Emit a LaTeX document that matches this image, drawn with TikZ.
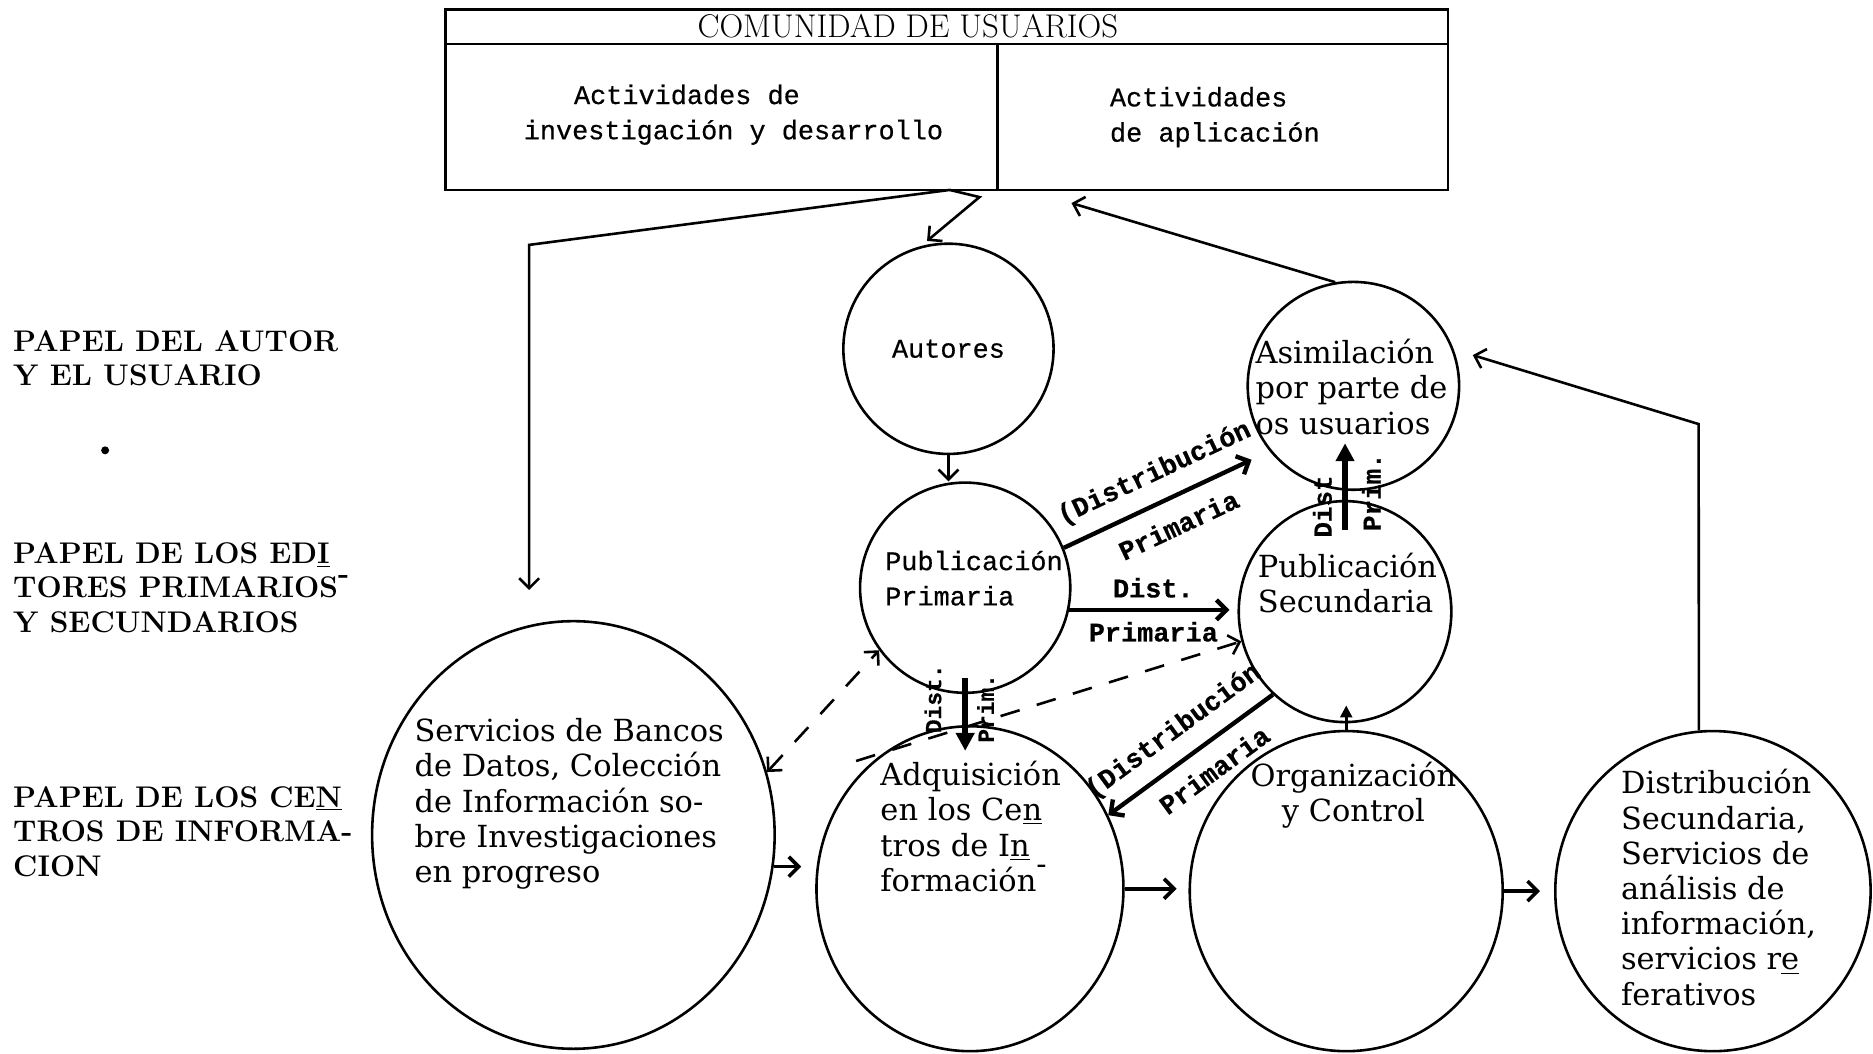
\documentclass[tikz,border=0pt]{standalone}
\usepackage{fontspec}
\newfontfamily\twfont[FakeBold=0.5]{Liberation Mono}
\newfontfamily\cfont{DejaVu Serif}
\usetikzlibrary{shapes.geometric,arrows.meta}

\begin{document}
\begin{tikzpicture}[x=0.6pt,y=-0.6pt,line width=1.3pt,
  >={Straight Barb[length=5pt,width=10pt]},
  every node/.style={inner sep=0pt},
  blob/.style={ellipse,draw},
  cell/.style={draw,rectangle,line width=1.2pt},
  tw/.style={font=\twfont\fontsize{13.5}{17.7}\selectfont,align=left},
  serif/.style={font=\cfont\fontsize{15.3}{17.7}\selectfont,align=left},
  rol/.style={font=\bfseries\fontsize{15}{17.4}\selectfont,align=left,anchor=west},
  lbl/.style={font=\twfont\bfseries\fontsize{13.5}{14}\selectfont},
  vlbl/.style={font=\twfont\bfseries\fontsize{11.5}{12}\selectfont,rotate=90},
  heavy/.style={->,line width=2.2pt},
  fat/.style={-{Triangle[length=9pt,width=9pt]},line width=3pt}]
 \useasboundingbox (0,0) rectangle (1568,882);
 \node [cell,minimum width=503.4pt,minimum height=17.4pt] (com) at (792.5,22.5) {};
 \node [cell,minimum width=277.2pt,minimum height=73.2pt] (inv) at (604,98) {};
 \node [cell,minimum width=226.2pt,minimum height=73.2pt] (apl) at (1023.5,98) {};
 \node [font=\fontsize{16.5}{18}\selectfont] (comT) at (760,22) {COMUNIDAD DE USUARIOS};
 \node [tw] (invT) at (614,96) {\hspace*{1.87em}Actividades de\\investigación y desarrollo};
 \node [tw] (aplT) at (1017,98) {Actividades\\de aplicación};

 \node [rol] (r1) at (10,300) {PAPEL DEL AUTOR\\Y EL USUARIO};
 \node [rol] (r2) at (10,492) {PAPEL DE LOS ED\underline{I}\\TORES PRIMARIOS\raisebox{1.1ex}{-}\\Y SECUNDARIOS};
 \node [rol] (r3) at (10,696) {PAPEL DE LOS CE\underline{N}\\TROS DE INFORMA-\\CION};
 \fill (88,377) circle (2pt);

 \node [blob,minimum width=105.6pt,minimum height=105.6pt] (aut) at (794,292) {};
 \node [blob,minimum width=105.6pt,minimum height=105.6pt] (pp) at (808,492) {};
 \node [blob,minimum width=106.2pt,minimum height=104.4pt] (asim) at (1133,323) {};
 \node [blob,minimum width=106.8pt,minimum height=111pt] (ps) at (1126,512) {};
 \node [blob,minimum width=202.2pt,minimum height=214.8pt] (serv) at (480,699) {};
 \node [blob,minimum width=154.2pt,minimum height=163.2pt] (adq) at (812,744) {};
 \node [blob,minimum width=157.2pt,minimum height=160.8pt] (org) at (1127,746) {};
 \node [blob,minimum width=158.4pt,minimum height=160.8pt] (dsec) at (1434,746) {};

 \node [tw] (autT) at (aut) {Autores};
 \node [tw,anchor=west] (ppT) at (740,484) {Publicación\\Primaria};
 \node [serif,anchor=west] (asimT) at (1050,324) {Asimilación\\por parte de\\os usuarios};
 \node [serif,anchor=west] (psT) at (1052,488) {Publicación\\Secundaria};
 \node [serif,anchor=west] (servT) at (346,673) {Servicios de Bancos\\de Datos, Colección\\de Información so-\\bre Investigaciones\\en progreso};
 \node [serif,anchor=west] (adqT) at (736,692) {Adquisición\\en los Ce\underline{n}\\tros de I\underline{n}\\formación\raisebox{1.1ex}{-}};
 \node [serif,align=center] (orgT) at (1133,666) {Organización\\y Control};
 \node [serif,anchor=west] (dsecT) at (1356,743) {Distribución\\Secundaria,\\Servicios de\\análisis de\\información,\\servicios r\underline{e}\\ferativos};

 \coordinate (j1) at (795,159);
 \coordinate (k1) at (820,165);
 \coordinate (k2) at (443,205);
 \coordinate (k3) at (897,170);
 \coordinate (k4) at (1422,355);
 \draw [->,shorten >=15pt] (j1) -- (k2) -- (k2 |- serv.north);
 \draw [->,shorten >=4pt] (j1) -- (k1) -- (aut.105);
 \draw [->] (asim.100) -- (k3);
 \draw [->,shorten >=10pt] (dsec.95) -- (k4) -- (asim.20);
 \draw [->] (aut.south) -- (aut.south |- pp.north);

 \draw [heavy,shorten >=10pt] (pp.22) -- (asim.218)
   node [midway,sloped,above=7pt,lbl] (l1) {(Distribución}
   node [midway,sloped,below=8pt,lbl] (l2) {Primaria};
 \draw [heavy,shorten >=4pt] (pp.348) -- (pp.348 -| ps.west)
   node [midway,above=5pt,lbl] (l3) {Dist.}
   node [midway,below=5pt,lbl] (l4) {Primaria};
 \draw [heavy,<-] (adq.28) -- (ps.229)
   node [midway,sloped,above=7pt,lbl] (l5) {(Distribución}
   node [pos=0.55,sloped,below=7pt,lbl] (l6) {Primaria};

 \draw [fat,shorten <=-8pt,shorten >=-13pt] (pp.south) -- (pp.south |- adq.north);
 \node [vlbl] (d1) at (781,585) {Dist.};
 \node [vlbl] (d2) at (825,593) {Prim.};
 \draw [fat,shorten <=-15pt,shorten >=-24pt] (ps.north) -- (ps.north |- asim.south);
 \node [vlbl,font=\twfont\bfseries\fontsize{13}{13}\selectfont] (d3) at (1107,424) {Dist};
 \node [vlbl,font=\twfont\bfseries\fontsize{13}{13}\selectfont] (d4) at (1148,412) {Prim.};
 \draw [-{Triangle[length=6pt,width=6pt]},shorten >=-9pt] (org.north) -- (org.north |- ps.south);

 \draw [dashed,dash pattern=on 10pt off 9pt,<->] (serv.18) -- (pp.216);
 \draw [dashed,dash pattern=on 10pt off 9pt,->,shorten <=-15pt] (adq.122) -- (ps.196);

 \draw [->,line width=1.8pt,shorten >=7pt] (serv.-9) -- (serv.-9 -| adq.west);
 \draw [->,line width=1.8pt,shorten >=6pt] (adq.east) -- (adq.east -| org.west);
 \draw [->,line width=1.8pt,shorten >=7pt] (org.east) -- (org.east -| dsec.west);
\end{tikzpicture}
\end{document}
